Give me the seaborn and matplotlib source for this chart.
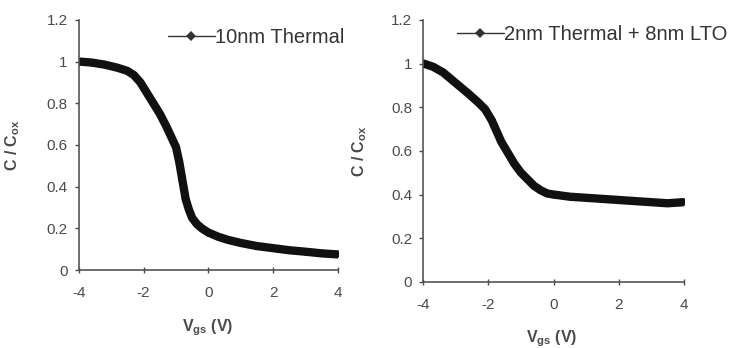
import matplotlib
matplotlib.use("Agg")
import matplotlib.pyplot as plt
import pandas as pd
import seaborn as sns

# ========== Данные ==========
vgs_thermal = [-4, -3.6, -3.2, -2.8, -2.5, -2.3, -2.1, -1.9, -1.7, -1.5, -1.3, -1.15,
               -1.0, -0.9, -0.8, -0.7, -0.6, -0.5, -0.35, -0.2, 0, 0.3, 0.6, 1.0,
               1.5, 2.0, 2.5, 3.0, 3.5, 4.0]
c_thermal = [1.0, 0.995, 0.985, 0.97, 0.955, 0.935, 0.90, 0.85, 0.80, 0.75, 0.69, 0.64,
             0.59, 0.52, 0.43, 0.34, 0.29, 0.25, 0.22, 0.20, 0.18, 0.16, 0.145, 0.13,
             0.115, 0.105, 0.095, 0.088, 0.08, 0.075]

vgs_lto = [-4, -3.7, -3.4, -3.0, -2.6, -2.3, -2.1, -1.9, -1.75, -1.6, -1.4, -1.2,
           -1.0, -0.8, -0.6, -0.4, -0.2, 0, 0.5, 1.0, 1.5, 2.0, 2.5, 3.0, 3.5, 4.0]
c_lto = [1.0, 0.985, 0.96, 0.91, 0.86, 0.82, 0.79, 0.74, 0.69, 0.64, 0.59, 0.54,
         0.50, 0.47, 0.44, 0.42, 0.405, 0.40, 0.39, 0.385, 0.38, 0.375, 0.37, 0.365,
         0.36, 0.365]

x_ticks = [-4, -2, 0, 2, 4]
y_ticks = [0, 0.2, 0.4, 0.6, 0.8, 1, 1.2]
y_tick_labels = ["0", "0.2", "0.4", "0.6", "0.8", "1", "1.2"]

sns.set_style("ticks")
plt.rcParams['font.family'] = ['Liberation Sans', 'DejaVu Sans']
plt.rcParams['axes.unicode_minus'] = False
plt.rcParams['mathtext.default'] = 'regular'
text_color = "#4a4a4a"

fig = plt.figure(figsize=(7.44, 3.48), dpi=100)
ax1 = fig.add_axes([0.106, 0.224, 0.348, 0.719])
ax2 = fig.add_axes([0.569, 0.19, 0.350, 0.753])

# (ось, x, y, подпись, позиция легенды, позиция ylabel, позиция xlabel)
panels = [
    (ax1, vgs_thermal, c_thermal, "10nm Thermal", (0.345, 0.93), (-0.22, 0.5), (0.498, -0.188)),
    (ax2, vgs_lto, c_lto, "2nm Thermal + 8nm LTO", (0.13, 0.945), (-0.21, 0.5), (0.494, -0.178)),
]

for ax, xs, ys, label, leg_pos, ylab_pos, xlab_pos in panels:
    df = pd.DataFrame({"Vgs": xs, "C": ys})
    sns.lineplot(data=df, x="Vgs", y="C", ax=ax, color="#111111", linewidth=6,
                 marker="D", markersize=4.5, markeredgewidth=0, label=label)
    ax.set_xlim(-4, 4)
    ax.set_ylim(0, 1.2)
    ax.set_xticks(x_ticks)
    ax.set_yticks(y_ticks)
    ax.set_yticklabels(y_tick_labels)
    ax.tick_params(colors=text_color, labelsize=11, length=3, width=1)
    ax.tick_params(axis="x", direction="inout", length=5, pad=9)
    ax.tick_params(axis="y", pad=5)
    for s in ["left", "bottom"]:
        ax.spines[s].set_color("#555555")
        ax.spines[s].set_linewidth(1.2)
    sns.despine(ax=ax)
    ax.set_xlabel("V$_{gs}$ (V)", color=text_color, fontsize=11.5, fontweight="bold")
    ax.set_ylabel("C / C$_{ox}$", color=text_color, fontsize=11.5, fontweight="bold")
    ax.xaxis.set_label_coords(*xlab_pos)
    ax.yaxis.set_label_coords(*ylab_pos)

    leg = ax.legend(loc="center left", bbox_to_anchor=leg_pos, frameon=False,
                    fontsize=14.5, handlelength=2.3, handletextpad=0.0, borderpad=0,
                    borderaxespad=0)
    for h in leg.get_lines():
        h.set_linewidth(1)
        h.set_markersize(5)
        h.set_color("#333333")
    for t in leg.get_texts():
        t.set_color("#333333")

fig.savefig("out.png", dpi=100)
